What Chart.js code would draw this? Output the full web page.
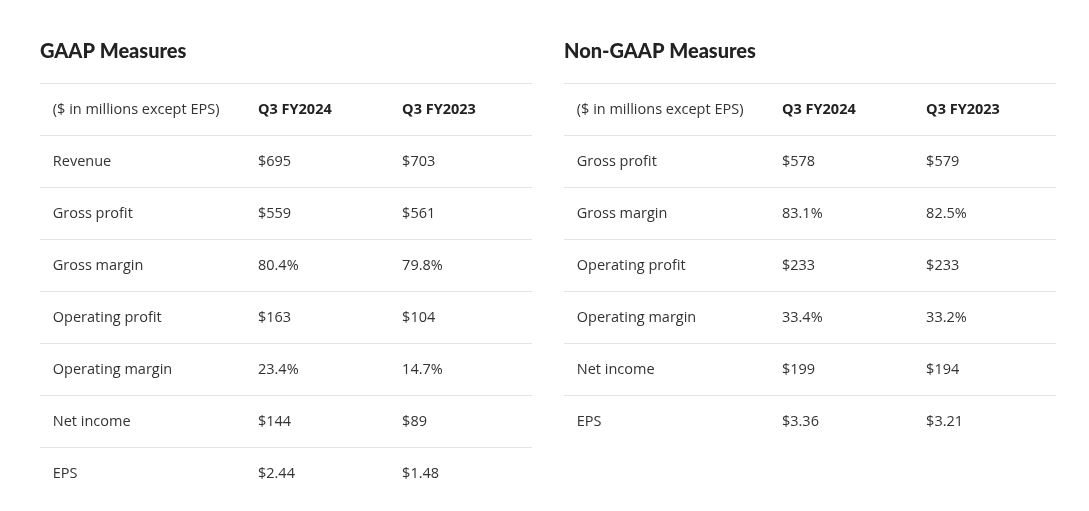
<!DOCTYPE html>
<html><head><meta charset="utf-8">
<script src="https://cdn.jsdelivr.net/npm/chart.js@4"></script>
<style>
body{margin:0;background:#fff;width:1089px;height:511px;overflow:hidden}
.box{position:absolute;top:0;height:511px}
</style></head><body>
<div class="box" style="left:0;width:545px"><canvas id="gaap"></canvas></div>
<div class="box" style="left:545px;width:544px"><canvas id="nongaap"></canvas></div>
<script>
const headers = ["($ in millions except EPS)", "Q3 FY2024", "Q3 FY2023"];
const gaapRows = ["Revenue", "Gross profit", "Gross margin", "Operating profit", "Operating margin", "Net income", "EPS"];
const gaapQ3FY2024 = ["$695", "$559", "80.4%", "$163", "23.4%", "$144", "$2.44"];
const gaapQ3FY2023 = ["$703", "$561", "79.8%", "$104", "14.7%", "$89", "$1.48"];
const nonGaapRows = ["Gross profit", "Gross margin", "Operating profit", "Operating margin", "Net income", "EPS"];
const nonGaapQ3FY2024 = ["$578", "83.1%", "$233", "33.4%", "$199", "$3.36"];
const nonGaapQ3FY2023 = ["$579", "82.5%", "$233", "33.2%", "$194", "$3.21"];

const BODY = "'Open Sans', sans-serif";
const colAt = [2.6, 44.3, 73.6];

const tablePlugin = {
  id: "table",
  afterDraw(chart) {
    const o = chart.options.plugins.table;
    const c = chart.ctx, xs = chart.scales.x, ys = chart.scales.y, a = chart.chartArea;
    c.save();
    c.fillStyle = "#222";
    c.textBaseline = "middle";
    c.font = "900 20px Lato, sans-serif";
    c.fillText(o.title, a.left, 52);
    c.strokeStyle = "#e4e4e4";
    c.lineWidth = 1;
    for (let i = 0; i < o.rows.length + 1; i++) {
      const y = Math.round(ys.getPixelForValue(i)) + 0.5;
      c.beginPath(); c.moveTo(a.left, y); c.lineTo(a.right, y); c.stroke();
    }
    headers.forEach((h, j) => {
      c.font = (j ? "bold " : "") + "14.5px " + BODY;
      c.fillStyle = j ? "#222" : "#333";
      c.fillText(h, xs.getPixelForValue(colAt[j]), ys.getPixelForValue(0.5) + 1);
    });
    c.font = "14.5px " + BODY;
    c.fillStyle = "#333";
    o.rows.forEach((r, i) => {
      const y = ys.getPixelForValue(i + 1.5) + 1;
      c.fillText(r, xs.getPixelForValue(colAt[0]), y);
      c.fillText(o.a[i], xs.getPixelForValue(colAt[1]), y);
      c.fillText(o.b[i], xs.getPixelForValue(colAt[2]), y);
    });
    c.restore();
  }
};

function gerarTabela(id, title, rows, a, b, pad) {
  return new Chart(document.getElementById(id), {
    type: "scatter",
    data: { datasets: [] },
    plugins: [tablePlugin],
    options: {
      responsive: true,
      maintainAspectRatio: false,
      animation: false,
      layout: { padding: pad },
      plugins: { legend: { display: false }, tooltip: { enabled: false }, table: { title, rows, a, b } },
      scales: {
        x: { type: "linear", min: 0, max: 100, display: false },
        y: { type: "linear", min: 0, max: 8, reverse: true, display: false }
      }
    }
  });
}

gerarTabela("gaap", "GAAP Measures", gaapRows, gaapQ3FY2024, gaapQ3FY2023, { left: 40, right: 13, top: 83, bottom: 12 });
gerarTabela("nongaap", "Non-GAAP Measures", nonGaapRows, nonGaapQ3FY2024, nonGaapQ3FY2023, { left: 19, right: 33, top: 83, bottom: 12 });
</script>
</body></html>
